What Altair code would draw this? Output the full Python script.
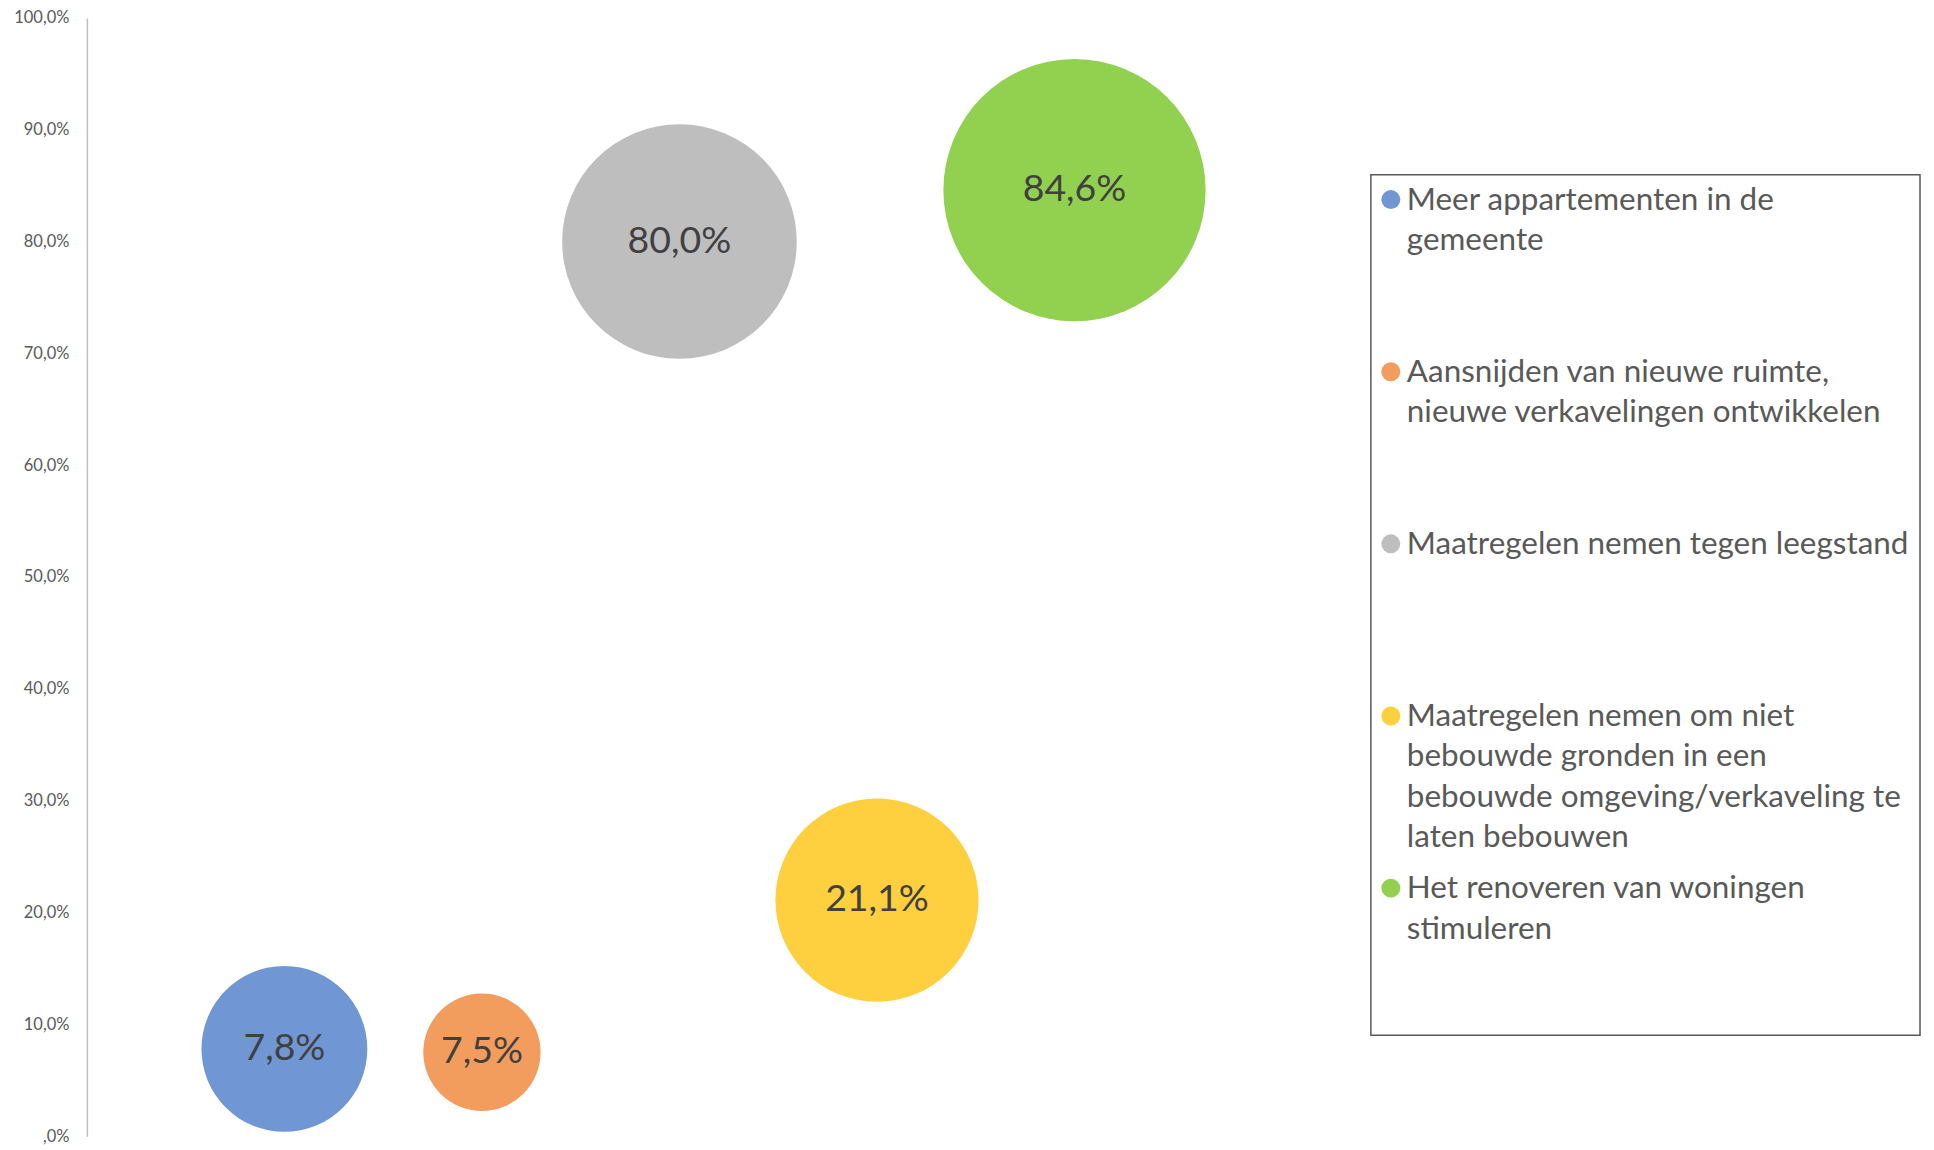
import altair as alt
import pandas as pd

# ---- data ----
categories = [
    "Meer appartementen in de gemeente",
    "Aansnijden van nieuwe ruimte, nieuwe verkavelingen ontwikkelen",
    "Maatregelen nemen tegen leegstand",
    "Maatregelen nemen om niet bebouwde gronden in een bebouwde omgeving/verkaveling te laten bebouwen",
    "Het renoveren van woningen stimuleren",
]
legend_labels = [
    "Meer appartementen in de\ngemeente",
    "Aansnijden van nieuwe ruimte,\nnieuwe verkavelingen ontwikkelen",
    "Maatregelen nemen tegen leegstand",
    "Maatregelen nemen om niet\nbebouwde gronden in een\nbebouwde omgeving/verkaveling te\nlaten bebouwen",
    "Het renoveren van woningen\nstimuleren",
]
x_positions = [1, 2, 3, 4, 5]
values = [7.8, 7.5, 80.0, 21.1, 84.6]
bubble_sizes = [2, 1, 4, 3, 5]
colors = ["#7096D4", "#F29D5E", "#BEBEBE", "#FECF3E", "#92D050"]
y_ticks = [0, 10, 20, 30, 40, 50, 60, 70, 80, 90, 100]

df = pd.DataFrame({
    "name": categories,
    "legend": legend_labels,
    "pos": x_positions,
    "value": values,
    "bsize": bubble_sizes,
})
df["label"] = [f"{v:.1f}".replace(".", ",") + "%" for v in values]

FONT = "Lato"
color_scale = alt.Scale(domain=categories, range=colors)

base = alt.Chart(df)
bubbles = base.mark_circle(opacity=1).encode(
    x=alt.X("pos:Q", scale=alt.Scale(domain=[0, 6]), axis=None),
    y=alt.Y(
        "value:Q",
        scale=alt.Scale(domain=[0, 100]),
        axis=alt.Axis(
            values=y_ticks,
            labelExpr="datum.value == 0 ? ',0%' : replace(format(datum.value, '.1f'), '.', ',') + '%'",
            grid=False,
            ticks=False,
            tickSize=0,
            domainColor="#BFBFBF",
            domainWidth=1.5,
            labelFont=FONT,
            labelFontSize=16.5,
            labelColor="#595959",
            labelPadding=18,
            title=None,
        ),
    ),
    size=alt.Size("bsize:Q", scale=alt.Scale(domain=[0, 5], range=[0, 69000]), legend=None),
    color=alt.Color("name:N", scale=color_scale, legend=None),
)
labels = base.mark_text(font=FONT, fontSize=37.5, color="#404040").encode(
    x="pos:Q", y="value:Q", text="label:N"
)
main = (bubbles + labels).properties(width=1187, height=1120)

# empty block that pushes the legend box down
spacer = (
    alt.Chart(pd.DataFrame({"a": [0]}))
    .mark_point(opacity=0)
    .encode(x=alt.value(0), y=alt.value(0))
    .properties(width=550, height=146)
)

leg_base = alt.Chart(df).encode(y=alt.Y("name:N", sort=categories, axis=None))
leg_dots = leg_base.mark_circle(size=361, opacity=1, yOffset=-61.2).encode(
    x=alt.value(20),
    color=alt.Color("name:N", scale=color_scale, legend=None),
)
leg_text = leg_base.mark_text(
    align="left", baseline="alphabetic", font=FONT, fontSize=31.5, color="#595959",
    lineBreak="\n", lineHeight=40.5, yOffset=-51.2,
).encode(x=alt.value(36), text="legend:N")
legend = (leg_dots + leg_text).properties(
    width=550, height=862,
    view=alt.ViewBackground(stroke="#595959", strokeWidth=1.5),
)

right = alt.vconcat(spacer, legend, spacing=10).resolve_scale(y="independent")

chart = (
    alt.hconcat(main, right, spacing=96)
    .resolve_scale(x="independent", y="independent")
    .properties(padding={"left": 5, "top": 1, "right": 5, "bottom": 5})
    .configure_view(stroke=None)
)

chart.save("out.html", embed_options={"renderer": "svg", "actions": False})
